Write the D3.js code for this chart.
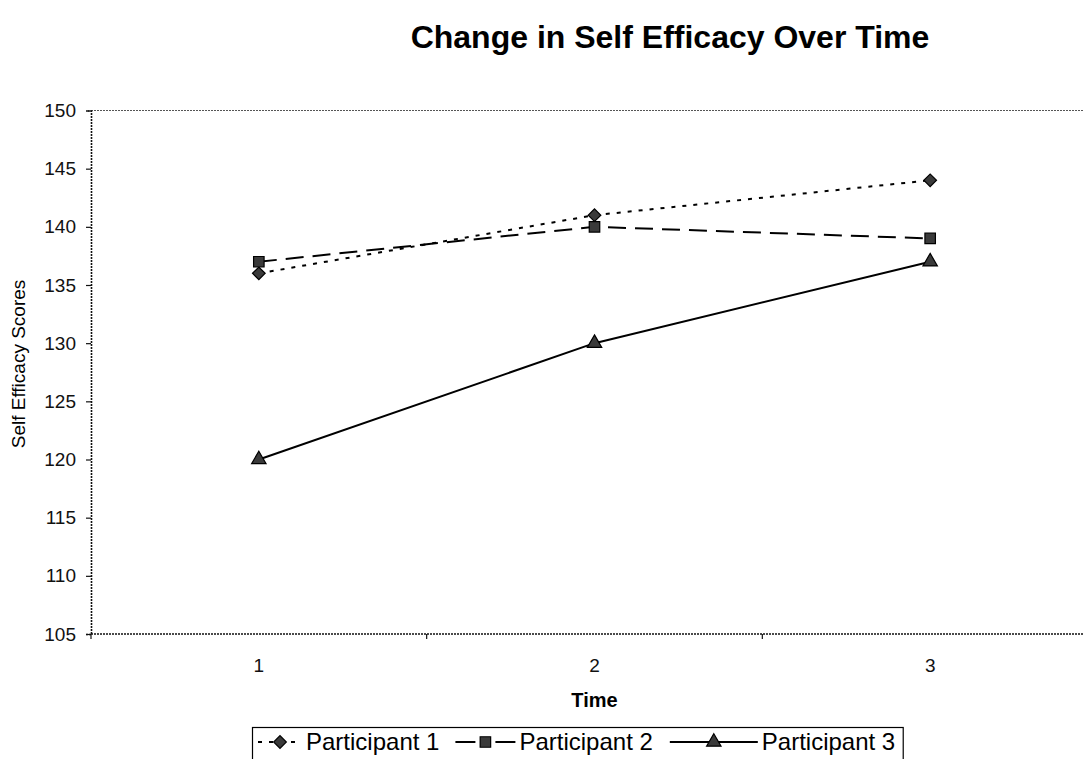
<!DOCTYPE html>
<html>
<head>
<meta charset="utf-8">
<script src="https://cdn.jsdelivr.net/npm/d3@7/dist/d3.min.js"></script>
<style>
  html, body { margin: 0; padding: 0; background: #fff; }
  svg { display: block; font-family: "Liberation Sans", Arial, sans-serif; }
</style>
</head>
<body>
<svg id="chart" width="1083" height="759"></svg>
<script>
// Self efficacy scores per participant at each time point
const times = ["1", "2", "3"];
const participant1 = [136, 141, 144];
const participant2 = [137, 140, 139];
const participant3 = [120, 130, 137];
const seriesNames = ["Participant 1", "Participant 2", "Participant 3"];
const yTicks = [105, 110, 115, 120, 125, 130, 135, 140, 145, 150];

// Diamond drawn as a square turned 45 degrees, as in spreadsheet charts
const series = [
  { name: seriesNames[0], values: participant1, dash: "4,7", legendDash: "4,7", symbol: d3.symbolSquare, size: 80, rotate: 45 },
  { name: seriesNames[1], values: participant2, dash: "18,9", legendDash: "20,20", symbol: d3.symbolSquare, size: 110, rotate: 0 },
  { name: seriesNames[2], values: participant3, dash: null, legendDash: null, symbol: d3.symbolTriangle, size: 90, rotate: 0 }
];

const svg = d3.select("#chart");
const plot = { left: 91, right: 1098, top: 110.5, bottom: 634 };

const x = d3.scalePoint().domain(times).range([plot.left, plot.right]).padding(0.5);
const band = (plot.right - plot.left) / times.length;
const y = d3.scaleLinear().domain([105, 150]).range([plot.bottom, plot.top]);

// Title
svg.append("text")
  .attr("x", 670).attr("y", 48)
  .attr("text-anchor", "middle")
  .attr("font-size", 32).attr("font-weight", "bold")
  .text("Change in Self Efficacy Over Time");

// Plot area frame (dotted top edge)
svg.append("line")
  .attr("x1", plot.left).attr("x2", plot.right)
  .attr("y1", plot.top).attr("y2", plot.top)
  .attr("stroke", "#555").attr("stroke-width", 1.2).attr("stroke-dasharray", "2,1");

// Y axis
const yAxis = d3.axisLeft(y).tickValues(yTicks).tickSize(5).tickPadding(10);
const gy = svg.append("g").attr("transform", `translate(${plot.left},0)`).call(yAxis);
gy.attr("font-size", null).attr("font-family", null);
gy.select(".domain").attr("stroke", "#111").attr("stroke-width", 1.6).attr("stroke-dasharray", "2,1");
gy.selectAll(".tick line").attr("stroke", "#111").attr("stroke-width", 1.2);
gy.selectAll(".tick text").attr("font-size", 19).attr("fill", "#111");

// X axis: category baseline with ticks between categories
const gx = svg.append("g").attr("transform", `translate(0,${plot.bottom})`);
gx.append("line")
  .attr("x1", plot.left).attr("x2", plot.right)
  .attr("stroke", "#111").attr("stroke-width", 1.6).attr("stroke-dasharray", "2,1");
const boundaries = d3.range(times.length + 1).map(i => plot.left + i * band);
gx.selectAll("line.tick").data(boundaries).join("line")
  .attr("class", "tick")
  .attr("x1", d => d).attr("x2", d => d)
  .attr("y1", 0).attr("y2", 5)
  .attr("stroke", "#111").attr("stroke-width", 1.2);
gx.selectAll("text").data(times).join("text")
  .attr("x", d => x(d)).attr("y", 38)
  .attr("text-anchor", "middle")
  .attr("font-size", 19).attr("fill", "#111")
  .text(d => d);

// Axis titles
svg.append("text")
  .attr("x", x("2")).attr("y", 707)
  .attr("text-anchor", "middle")
  .attr("font-size", 20).attr("font-weight", "bold")
  .text("Time");

svg.append("text")
  .attr("transform", "translate(25,364) rotate(-90)")
  .attr("text-anchor", "middle")
  .attr("font-size", 19)
  .text("Self Efficacy Scores");

// Series lines and markers
const line = d3.line().x((d, i) => x(times[i])).y(d => y(d));

series.forEach(s => {
  svg.append("path")
    .datum(s.values)
    .attr("d", line)
    .attr("fill", "none")
    .attr("stroke", "#000")
    .attr("stroke-width", 2)
    .attr("stroke-dasharray", s.dash);
});

series.forEach(s => {
  svg.selectAll(null).data(s.values).join("path")
    .attr("transform", (d, i) => `translate(${x(times[i])},${y(d)}) rotate(${s.rotate})`)
    .attr("d", d3.symbol().type(s.symbol).size(s.size))
    .attr("fill", "#3a3a3a")
    .attr("stroke", "#000")
    .attr("stroke-width", 1.2);
});

// Legend: sample line with marker, then the series name
const legend = svg.append("g");
const box = legend.append("rect")
  .attr("y", 727.5).attr("height", 45)
  .attr("fill", "#fff").attr("stroke", "#000").attr("stroke-width", 1.2);
const ly = 742;
const legendLeft = 252.5;
const sampleWidths = [44, 60, 88];
const entryGaps = [0, 16, 17];
let cursor = 258;
series.forEach((s, i) => {
  cursor += entryGaps[i];
  const sampleW = sampleWidths[i];
  legend.append("line")
    .attr("x1", cursor).attr("x2", cursor + sampleW)
    .attr("y1", ly).attr("y2", ly)
    .attr("stroke", "#000").attr("stroke-width", 2)
    .attr("stroke-dasharray", s.legendDash);
  legend.append("path")
    .attr("transform", `translate(${cursor + sampleW / 2},${ly}) rotate(${s.rotate})`)
    .attr("d", d3.symbol().type(s.symbol).size(s.size))
    .attr("fill", "#3a3a3a").attr("stroke", "#000").attr("stroke-width", 1.2);
  const t = legend.append("text")
    .attr("x", cursor + sampleW + 4).attr("y", ly + 8)
    .attr("font-size", 24)
    .text(s.name);
  cursor += sampleW + 4 + t.node().getComputedTextLength();
});
box.attr("x", legendLeft).attr("width", cursor + 8 - legendLeft);
</script>
</body>
</html>
